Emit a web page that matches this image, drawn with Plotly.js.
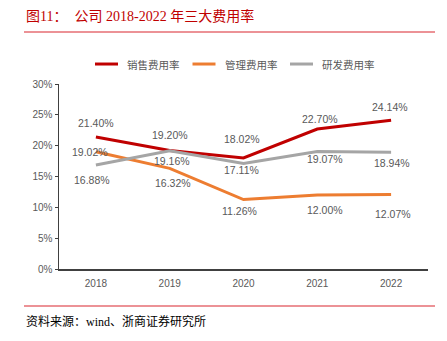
<!DOCTYPE html>
<html><head><meta charset="utf-8">
<script src="https://cdn.plot.ly/plotly-3.0.1.min.js"></script>
<style>html,body{margin:0;padding:0;background:#fff}#c{width:447px;height:341px}</style>
</head><body><div id="c"></div>
<script>
const years = ['2018','2019','2020','2021','2022'];
const sales = [21.40, 19.20, 18.02, 22.70, 24.14];
const admin = [19.02, 16.32, 11.26, 12.00, 12.07];
const rnd = [16.88, 19.16, 17.11, 19.07, 18.94];
const names = ['销售费用率','管理费用率','研发费用率'];
const colors = ['#C00000','#ED7D31','#A5A5A5'];
const series = [sales, admin, rnd];

// label placement (pixel offsets from each point)
const labelShift = [
  [[0,14],[0,16],[-2,19],[3,10],[-1,13]],
  [[-6,0],[3,-15],[-4,-11],[8,-15],[2,-19]],
  [[-4,-15],[2,-10],[-2,-7],[8,-8],[1,-11]]
];
const labelFont = {family:'Liberation Sans, Arial, sans-serif', size:10.5, color:'#595959'};

const traces = series.map((s,i)=>({x:years,y:s,name:names[i],mode:'lines',line:{color:colors[i],width:3},showlegend:false}));

const annotations = [];
series.forEach((s,i)=>s.forEach((v,j)=>{
  annotations.push({x:j,y:v,xref:'x',yref:'y',text:v.toFixed(2)+'%',showarrow:false,
    xshift:labelShift[i][j][0],yshift:labelShift[i][j][1],font:labelFont,xanchor:'center',yanchor:'middle'});
}));

const shapes = [
  {type:'line',xref:'paper',yref:'paper',x0:-0.095,x1:1.019,y0:1.281,y1:1.281,line:{color:'#D9272E',width:1.2}},
  {type:'line',xref:'paper',yref:'paper',x0:-0.095,x1:1.019,y0:-0.2,y1:-0.2,line:{color:'#D9272E',width:1.2}}
];
// custom legend
const W=369, L=59;
names.forEach((n,i)=>{
  const px0 = 95 + i*97.5;
  shapes.push({type:'line',xref:'paper',yref:'paper',x0:(px0-L)/W,x1:(px0+23-L)/W,y0:1.108,y1:1.108,line:{color:colors[i],width:3}});
  annotations.push({xref:'paper',yref:'paper',x:(px0+30-L)/W,y:1.108,xanchor:'left',yanchor:'middle',showarrow:false,
    text:n,font:{family:'Noto Sans CJK SC, sans-serif',size:10.5,color:'#595959'}});
});
annotations.push({xref:'paper',yref:'paper',x:-0.095,y:1.37,xanchor:'left',yanchor:'middle',showarrow:false,
   text:'图11：　公司 2018-2022 年三大费用率',font:{family:'Liberation Serif, Noto Sans CJK SC, serif',size:14,color:'#C00000'}});
annotations.push({xref:'paper',yref:'paper',x:-0.095,y:-0.282,xanchor:'left',yanchor:'middle',showarrow:false,
   text:'资料来源：wind、浙商证券研究所',font:{family:'Liberation Serif, Noto Sans CJK SC, serif',size:12,color:'#000'}});

const layout = {
 width:447,height:341,margin:{l:59,r:19,t:84,b:72},
 paper_bgcolor:'#fff',plot_bgcolor:'#fff',
 font:{family:'Liberation Sans, Noto Sans CJK SC, sans-serif',color:'#595959'},
 showlegend:false,
 xaxis:{type:'category',range:[-0.5,4.5],autorange:false,showline:true,linecolor:'#404040',linewidth:1.5,ticks:'',showgrid:false,tickfont:{size:10,color:'#595959'},zeroline:false,ticklabelstandoff:4},
 yaxis:{range:[0,30],autorange:false,dtick:5,ticksuffix:'%',showline:true,linecolor:'#404040',linewidth:1.5,ticks:'outside',ticklen:3,tickcolor:'#404040',showgrid:false,zeroline:false,tickfont:{size:10,color:'#595959'}},
 shapes:shapes,
 annotations:annotations
};
Plotly.newPlot('c',traces,layout,{displayModeBar:false,staticPlot:true});
</script></body></html>
